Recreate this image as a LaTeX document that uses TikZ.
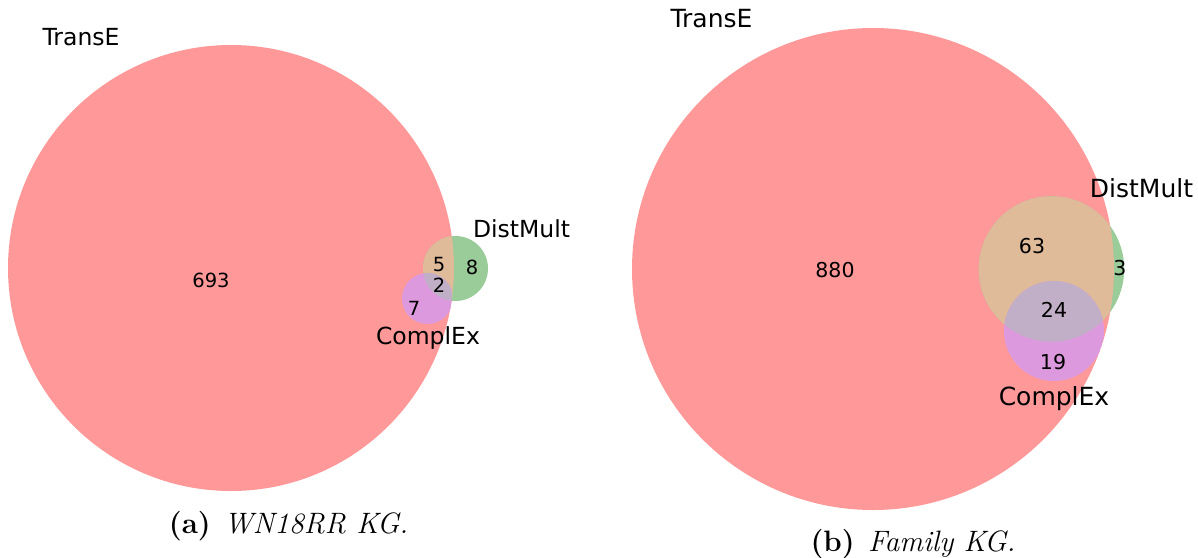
\documentclass[tikz,border=0pt]{standalone}
\usepackage{fontspec}
\newfontfamily\venn{DejaVu Sans}
\definecolor{cT}{HTML}{FF9999}
\definecolor{cD}{HTML}{99CC99}
\definecolor{cTD}{HTML}{DFBB99}
\definecolor{cTC}{HTML}{DD99DD}
\definecolor{cTDC}{HTML}{C1AEC7}
\tikzset{
  setlabel/.style={anchor=base, inner sep=0pt, font=\venn\fontsize{23.5}{25}\selectfont},
  setlabelb/.style={anchor=base, inner sep=0pt, font=\venn\fontsize{25}{27}\selectfont},
  count/.style={anchor=base, inner sep=0pt, font=\venn\fontsize{19.5}{21}\selectfont},
  countb/.style={anchor=base, inner sep=0pt, font=\venn\fontsize{20.5}{22}\selectfont},
  subcap/.style={anchor=base, inner sep=0pt, font=\fontsize{29.5}{31}\selectfont}
}
\begin{document}
\begin{tikzpicture}[x=1pt,y=-1pt]
\useasboundingbox (0,0) rectangle (1198,557);
% ---------- (a) ----------
\coordinate (Ta) at (231,268);
\coordinate (Da) at (455.5,268.5);
\coordinate (Ca) at (427.5,298.5);
\fill[cT] (Ta) circle[radius=223];
\fill[cD] (Da) circle[radius=32.5];
\begin{scope}
  \clip (Ta) circle[radius=223];
  \fill[cTD] (Da) circle[radius=32.5];
  \fill[cTC] (Ca) circle[radius=25.5];
  \clip (Da) circle[radius=32.5];
  \fill[cTDC] (Ca) circle[radius=25.5];
\end{scope}
\node[setlabel] (ta) at (81,45) {TransE};
\node[setlabel] (da) at (521.5,237) {DistMult};
\node[setlabel] (ca) at (428,344) {ComplEx};
\node[count] (n693) at (211,287) {693};
\node[count] (n5) at (439,271) {5};
\node[count] (n8) at (472,274) {8};
\node[count] (n2) at (439,292) {2};
\node[count] (n7) at (414,315) {7};
\node[subcap] (capa) at (288.5,533) {\textbf{(a)}\hspace{0.45em}\textit{WN18RR KG.}};
% ---------- (b) ----------
\coordinate (Tb) at (873,269);
\coordinate (Db) at (1051.5,269);
\coordinate (Cb) at (1054,331);
\fill[cT] (Tb) circle[radius=241];
\fill[cD] (Db) circle[radius=72.7];
\begin{scope}
  \clip (Tb) circle[radius=241];
  \fill[cTD] (Db) circle[radius=72.7];
  \fill[cTC] (Cb) circle[radius=50];
  \clip (Db) circle[radius=72.7];
  \fill[cTDC] (Cb) circle[radius=50];
\end{scope}
\node[setlabelb] (tb) at (711.5,27) {TransE};
\node[setlabelb] (db) at (1141.5,197) {DistMult};
\node[setlabelb] (cb) at (1054,405) {ComplEx};
\node[countb] (n880) at (835,277) {880};
\node[countb] (n63) at (1032,253) {63};
\node[countb] (n3) at (1120,275) {3};
\node[countb] (n24) at (1054,317) {24};
\node[countb] (n19) at (1053,369) {19};
\node[subcap] (capb) at (913,551) {\textbf{(b)}\hspace{0.45em}\textit{Family KG.}};
\end{tikzpicture}
\end{document}
